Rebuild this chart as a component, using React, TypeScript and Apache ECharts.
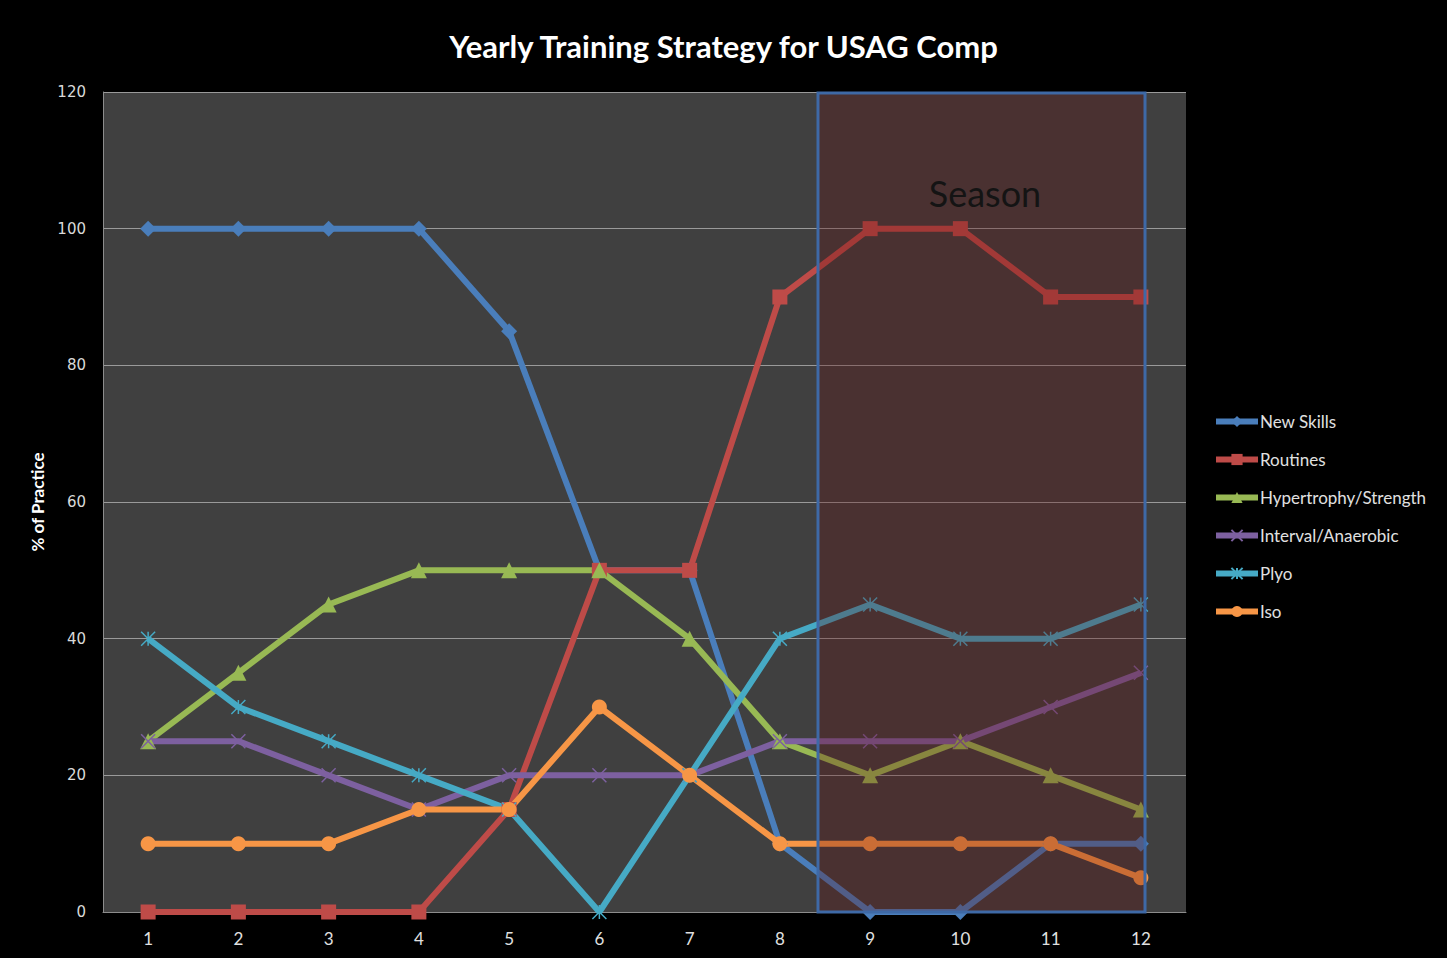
import React, { useEffect, useRef } from "react";
import * as echarts from "echarts";

const months = ["1", "2", "3", "4", "5", "6", "7", "8", "9", "10", "11", "12"];
const newSkills = [100, 100, 100, 100, 85, 50, 50, 10, 0, 0, 10, 10];
const routines = [0, 0, 0, 0, 15, 50, 50, 90, 100, 100, 90, 90];
const hypertrophy = [25, 35, 45, 50, 50, 50, 40, 25, 20, 25, 20, 15];
const interval = [25, 25, 20, 15, 20, 20, 20, 25, 25, 25, 30, 35];
const plyo = [40, 30, 25, 20, 15, 0, 20, 40, 45, 40, 40, 45];
const iso = [10, 10, 10, 15, 15, 30, 20, 10, 10, 10, 10, 5];

const seriesDefs = [
  { name: "New Skills", data: newSkills, color: "#4a7ebb", symbol: "diamond", size: 16 },
  { name: "Routines", data: routines, color: "#be4b48", symbol: "rect", size: 15 },
  { name: "Hypertrophy/Strength", data: hypertrophy, color: "#98b954", symbol: "triangle", size: 16 },
  { name: "Interval/Anaerobic", data: interval, color: "#7d60a0", symbol: "path://M0,0L10,10M10,0L0,10", size: 14, stroke: true },
  { name: "Plyo", data: plyo, color: "#46aac5", symbol: "path://M0,0L10,10M10,0L0,10M5,0L5,10", size: 14, stroke: true },
  { name: "Iso", data: iso, color: "#f79646", symbol: "circle", size: 15 },
];

export default function App() {
  const ref = useRef<HTMLDivElement>(null);
  useEffect(() => {
    if (!ref.current) return;
    const chart = echarts.init(ref.current, null, { renderer: "svg" });
    chart.setOption({
      animation: false,
      backgroundColor: "#000000",
      title: {
        text: "Yearly Training Strategy for USAG Comp",
        left: "center",
        top: 25,
        textStyle: { color: "#ffffff", fontFamily: "Lato", fontWeight: "bold", fontSize: 31 },
      },
      legend: {
        orient: "vertical",
        left: 1213,
        top: 413,
        padding: 0,
        itemWidth: 42,
        itemHeight: 14,
        itemGap: 21,
        lineStyle: { width: 6 },
        textStyle: { color: "#e0e0e0", fontFamily: "Lato", fontSize: 17, padding: [0, 0, 0, -3] },
        data: seriesDefs.map((s) => s.name),
      },
      grid: { left: 103, right: 261, top: 92, bottom: 46, show: true, backgroundColor: "#404040", borderWidth: 0 },
      xAxis: {
        type: "category",
        data: months,
        boundaryGap: true,
        axisLine: { show: true, lineStyle: { color: "#8c8c8c", width: 1 } },
        axisTick: { show: false },
        axisLabel: { color: "#e0e0e0", fontFamily: "Lato", fontSize: 17, margin: 18 },
      },
      yAxis: {
        type: "value",
        min: 0,
        max: 120,
        interval: 20,
        name: "% of Practice",
        nameLocation: "middle",
        nameGap: 56,
        nameTextStyle: { color: "#ffffff", fontFamily: "Lato", fontWeight: "bold", fontSize: 17 },
        axisLine: { show: true, lineStyle: { color: "#8c8c8c", width: 1 } },
        axisTick: { show: false },
        axisLabel: { color: "#d9d9d9", fontFamily: "DejaVu Sans", fontSize: 15, margin: 17 },
        splitLine: { show: true, lineStyle: { color: "#9a9a9a", width: 1 } },
      },
      series: seriesDefs.map((s) => ({
        name: s.name,
        type: "line",
        data: s.data,
        symbol: s.symbol,
        symbolSize: s.size,
        showAllSymbol: true,
        lineStyle: { color: s.color, width: 6 },
        itemStyle: s.stroke
          ? { color: s.color, borderColor: s.color, borderWidth: 1.5 }
          : { color: s.color, borderColor: s.color, borderWidth: 0 },
        emphasis: { disabled: true },
      })),
      graphic: [
        {
          type: "rect",
          z: 100,
          shape: { x: 818, y: 93, width: 327, height: 819 },
          style: { fill: "rgba(100,17,17,0.3)", stroke: "#3e69a6", lineWidth: 3 },
        },
        {
          type: "text",
          z: 101,
          x: 985,
          y: 193,
          style: {
            text: "Season",
            fill: "#141414",
            fontFamily: "Lato",
            fontSize: 36,
            align: "center",
            verticalAlign: "middle",
          },
        },
      ],
    });
    return () => chart.dispose();
  }, []);
  return (
    <div
      ref={ref}
      style={{ position: "fixed", left: 0, top: 0, width: 1447, height: 958, background: "#000" }}
    />
  );
}
